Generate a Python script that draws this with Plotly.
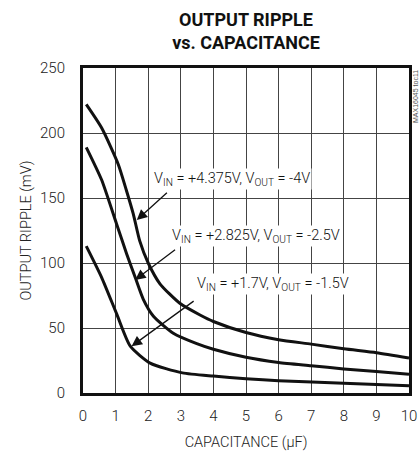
import plotly.graph_objects as go

# Data
x_hi = [0.1, 0.57, 1.08, 1.33, 1.54, 1.74, 2.0, 2.36, 2.97, 3.59, 4, 5, 6, 7, 8, 9, 10]
y_hi = [222, 204, 176, 156, 138, 117, 100, 84, 69, 60, 55, 46.5, 41, 37.6, 34, 31, 27]

x_mid = [0.1, 0.57, 1.03, 1.34, 1.6, 1.85, 2.16, 2.77, 3.49, 4, 5, 6, 7, 8, 9, 10]
y_mid = [189, 164, 130, 107, 89, 72, 59, 46, 38, 33.7, 27.5, 23.5, 21, 18.5, 16.5, 14.5]

x_lo = [0.1, 0.57, 1.03, 1.45, 2.06, 3.05, 4, 5, 6, 8, 10]
y_lo = [113, 89, 61, 36, 23, 15.5, 13, 11, 9.5, 7.5, 5.5]

labels = [
    "V<sub>IN</sub> = +4.375V, V<sub>OUT</sub> = -4V",
    "V<sub>IN</sub> = +2.825V, V<sub>OUT</sub> = -2.5V",
    "V<sub>IN</sub> = +1.7V, V<sub>OUT</sub> = -1.5V",
]
label_pos = [(4.57, 165), (5.32, 121), (5.84, 84)]
arrow_tail = [(2.62, 155), (2.87, 111), (3.44, 71.5)]
arrow_tip = [(1.65, 133), (1.6, 87), (1.49, 36)]

x_ticks = list(range(0, 11))
y_ticks = [0, 50, 100, 150, 200, 250]

FONT = "Roboto"
W, H = 419, 453
L, R, T, B = 83, 10, 68, 60

fig = go.Figure()
for xs, ys in [(x_hi, y_hi), (x_mid, y_mid), (x_lo, y_lo)]:
    fig.add_trace(go.Scatter(x=xs, y=ys, mode="lines",
                             line=dict(color="#111111", width=3, shape="spline", smoothing=0.6),
                             showlegend=False, hoverinfo="skip"))

for txt, (lx, ly) in zip(labels, label_pos):
    fig.add_annotation(x=lx, y=ly, xref="x", yref="y", text=txt, showarrow=False,
                       font=dict(family=FONT, size=14.5, color="#111111", weight=300),
                       bgcolor="white", borderpad=1)

for (tx, ty), (hx, hy) in zip(arrow_tail, arrow_tip):
    fig.add_annotation(x=hx, y=hy, ax=tx, ay=ty, xref="x", yref="y", axref="x", ayref="y",
                       text="", showarrow=True, arrowhead=2, arrowsize=1.6, arrowwidth=1.3,
                       arrowcolor="#111111")

fig.add_annotation(x=1.0, y=1.0, xref="paper", yref="paper", xanchor="left", yanchor="top",
                   xshift=1, text="MAX16045 toc11", textangle=-90, showarrow=False,
                   font=dict(family="Liberation Sans", size=7, color="#555555"))

fig.update_layout(
    width=W, height=H,
    margin=dict(l=L, r=R, t=T, b=B, autoexpand=False),
    paper_bgcolor="white", plot_bgcolor="white",
    font=dict(family=FONT, size=15, color="#222222", weight=300),
    title=dict(text="<b>OUTPUT RIPPLE</b><br><b>vs. CAPACITANCE</b>",
               x=(246) / W, xanchor="center", xref="container",
               y=1 - 26 / H, yanchor="middle", yref="container",
               font=dict(family=FONT, size=18, color="#111111")),
)
fig.update_xaxes(range=[0, 10], tickvals=x_ticks, ticktext=[str(v) for v in x_ticks],
                 showgrid=True, gridcolor="#444444", gridwidth=1, zeroline=False,
                 showline=True, linecolor="#111111", linewidth=3, mirror=True,
                 ticks="outside", ticklen=7, tickcolor="rgba(0,0,0,0)", automargin=False,
                 tickfont=dict(family=FONT, size=15, weight=300),
                 title=dict(text="CAPACITANCE (μF)", standoff=13,
                            font=dict(family=FONT, size=14.5, weight=300)))
fig.update_yaxes(range=[0, 250], tickvals=y_ticks, ticktext=[str(v) for v in y_ticks],
                 showgrid=True, gridcolor="#444444", gridwidth=1, zeroline=False,
                 showline=True, linecolor="#111111", linewidth=3, mirror=True,
                 ticks="outside", ticklen=12, tickcolor="rgba(0,0,0,0)", automargin=False,
                 tickfont=dict(family=FONT, size=15, weight=300),
                 title=dict(text="OUTPUT RIPPLE (mV)", standoff=5,
                            font=dict(family=FONT, size=14.5, weight=300)))

fig.write_html("out.html", config={"displayModeBar": False},
               post_script="document.body.style.margin='0';")
